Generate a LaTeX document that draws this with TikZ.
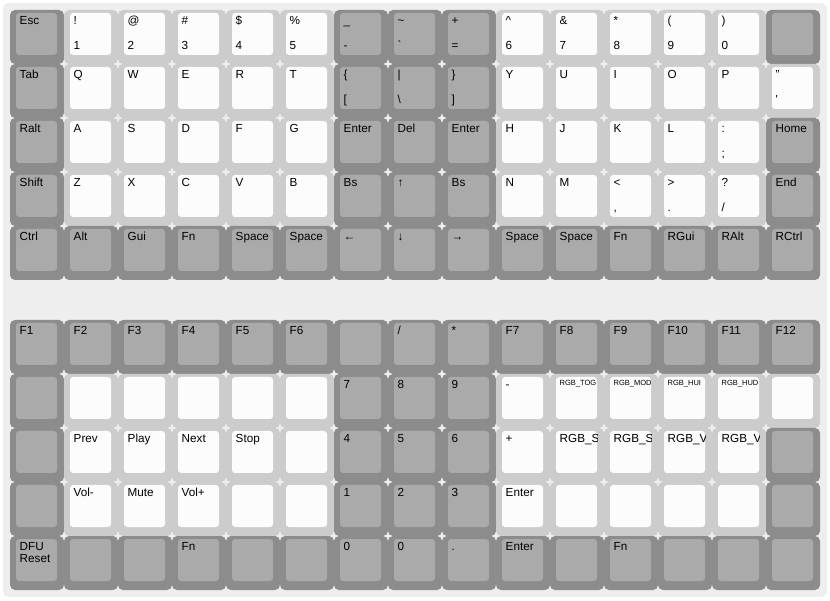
\documentclass[tikz,border=0pt]{standalone}
\usepackage{fontspec}
\setmainfont{Liberation Sans}
\usepackage{tikz}
\definecolor{bgcol}{HTML}{EEEEEE}
\definecolor{darkedge}{HTML}{8C8C8C}
\definecolor{darkface}{HTML}{AAAAAA}
\definecolor{liteedge}{HTML}{CCCCCC}
\definecolor{liteface}{HTML}{FCFCFC}
\tikzstyle{keycap} = [rectangle, rounded corners=5pt, minimum width=54pt, minimum height=54pt, inner sep=0pt, outer sep=0pt, anchor=north west]
\tikzstyle{keyface} = [rectangle, rounded corners=3pt, minimum width=41pt, minimum height=42pt, inner sep=0pt, outer sep=0pt, anchor=north west]
\tikzstyle{legend} = [anchor=base west, inner sep=0pt, font=\fontsize{11.7}{14}\selectfont]
\newcommand{\sm}[1]{\raisebox{2.5pt}{\fontsize{7.5}{9}\selectfont #1}}
% col, row, top y, kind, upper legend, lower legend
\newcommand{\kbkey}[6]{%
  \node[keycap, fill=#4edge] (k#1-#2) at ({10+54*#1},#3) {};
  \node[keyface, fill=#4face] (f#1-#2) at ([xshift=6pt,yshift=-3pt]k#1-#2.north west) {};
  \begin{scope}
    \clip ([xshift=6pt,yshift=-3pt]k#1-#2.north west) rectangle ([xshift=47pt,yshift=-45pt]k#1-#2.north west);
    \node[legend] at ([xshift=9.5pt,yshift=-14.5pt]k#1-#2.north west) {#5};
    \node[legend] at ([xshift=9.5pt,yshift=-39.5pt]k#1-#2.north west) {#6};
  \end{scope}}
\newcommand{\keyrow}[3]{%
  \foreach \ks/\kt/\kb [count=\kc from 0] in {#3} {\kbkey{\kc}{#1}{#2}{\ks}{\kt}{\kb}}}

\begin{document}
\begin{tikzpicture}[x=1pt, y=1pt]
  \useasboundingbox (0,0) rectangle (830,600);
  \fill[bgcol, rounded corners=6pt] (3,3) rectangle (827,597);

  % base layer
  \keyrow{0}{590}{dark/Esc/{}, lite/!/1, lite/@/2, lite/\#/3, lite/\$/4, lite/\%/5, dark/\_/-, dark/\textasciitilde/\textasciigrave, dark/+/=, lite/\textasciicircum/6, lite/\&/7, lite/*/8, lite/(/9, lite/)/0, dark/{}/{}}
  \keyrow{1}{536}{dark/Tab/{}, lite/Q/{}, lite/W/{}, lite/E/{}, lite/R/{}, lite/T/{}, dark/\{/[, dark/|/\textbackslash, dark/\}/], lite/Y/{}, lite/U/{}, lite/I/{}, lite/O/{}, lite/P/{}, lite/"/\textquotesingle}
  \keyrow{2}{482}{dark/Ralt/{}, lite/A/{}, lite/S/{}, lite/D/{}, lite/F/{}, lite/G/{}, dark/Enter/{}, dark/Del/{}, dark/Enter/{}, lite/H/{}, lite/J/{}, lite/K/{}, lite/L/{}, lite/:/;, dark/Home/{}}
  \keyrow{3}{428}{dark/Shift/{}, lite/Z/{}, lite/X/{}, lite/C/{}, lite/V/{}, lite/B/{}, dark/Bs/{}, dark/↑/{}, dark/Bs/{}, lite/N/{}, lite/M/{}, lite/{<}/{,}, lite/{>}/., lite/?/{/}, dark/End/{}}
  \keyrow{4}{374}{dark/Ctrl/{}, dark/Alt/{}, dark/Gui/{}, dark/Fn/{}, dark/Space/{}, dark/Space/{}, dark/←/{}, dark/↓/{}, dark/→/{}, dark/Space/{}, dark/Space/{}, dark/Fn/{}, dark/RGui/{}, dark/RAlt/{}, dark/RCtrl/{}}

  % fn layer
  \keyrow{5}{280}{dark/F1/{}, dark/F2/{}, dark/F3/{}, dark/F4/{}, dark/F5/{}, dark/F6/{}, dark/{}/{}, dark/{/}/{}, dark/*/{}, dark/F7/{}, dark/F8/{}, dark/F9/{}, dark/F10/{}, dark/F11/{}, dark/F12/{}}
  \keyrow{6}{226}{dark/{}/{}, lite/{}/{}, lite/{}/{}, lite/{}/{}, lite/{}/{}, lite/{}/{}, dark/7/{}, dark/8/{}, dark/9/{}, lite/-/{}, lite/\sm{RGB\_TOG}/{}, lite/\sm{RGB\_MOD}/{}, lite/\sm{RGB\_HUI}/{}, lite/\sm{RGB\_HUD}/{}, lite/{}/{}}
  \keyrow{7}{172}{dark/{}/{}, lite/Prev/{}, lite/Play/{}, lite/Next/{}, lite/Stop/{}, lite/{}/{}, dark/4/{}, dark/5/{}, dark/6/{}, lite/+/{}, lite/RGB\_SAI/{}, lite/RGB\_SAD/{}, lite/RGB\_VAI/{}, lite/RGB\_VAD/{}, dark/{}/{}}
  \keyrow{8}{118}{dark/{}/{}, lite/Vol-/{}, lite/Mute/{}, lite/Vol+/{}, lite/{}/{}, lite/{}/{}, dark/1/{}, dark/2/{}, dark/3/{}, lite/Enter/{}, lite/{}/{}, lite/{}/{}, lite/{}/{}, lite/{}/{}, dark/{}/{}}
  \keyrow{9}{64}{dark/DFU/{}, dark/{}/{}, dark/{}/{}, dark/Fn/{}, dark/{}/{}, dark/{}/{}, dark/0/{}, dark/0/{}, dark/./{}, dark/Enter/{}, dark/{}/{}, dark/Fn/{}, dark/{}/{}, dark/{}/{}, dark/{}/{}}
  \node[legend] (reset) at ([xshift=9.5pt,yshift=-26.5pt]k0-9.north west) {Reset};
\end{tikzpicture}
\end{document}
